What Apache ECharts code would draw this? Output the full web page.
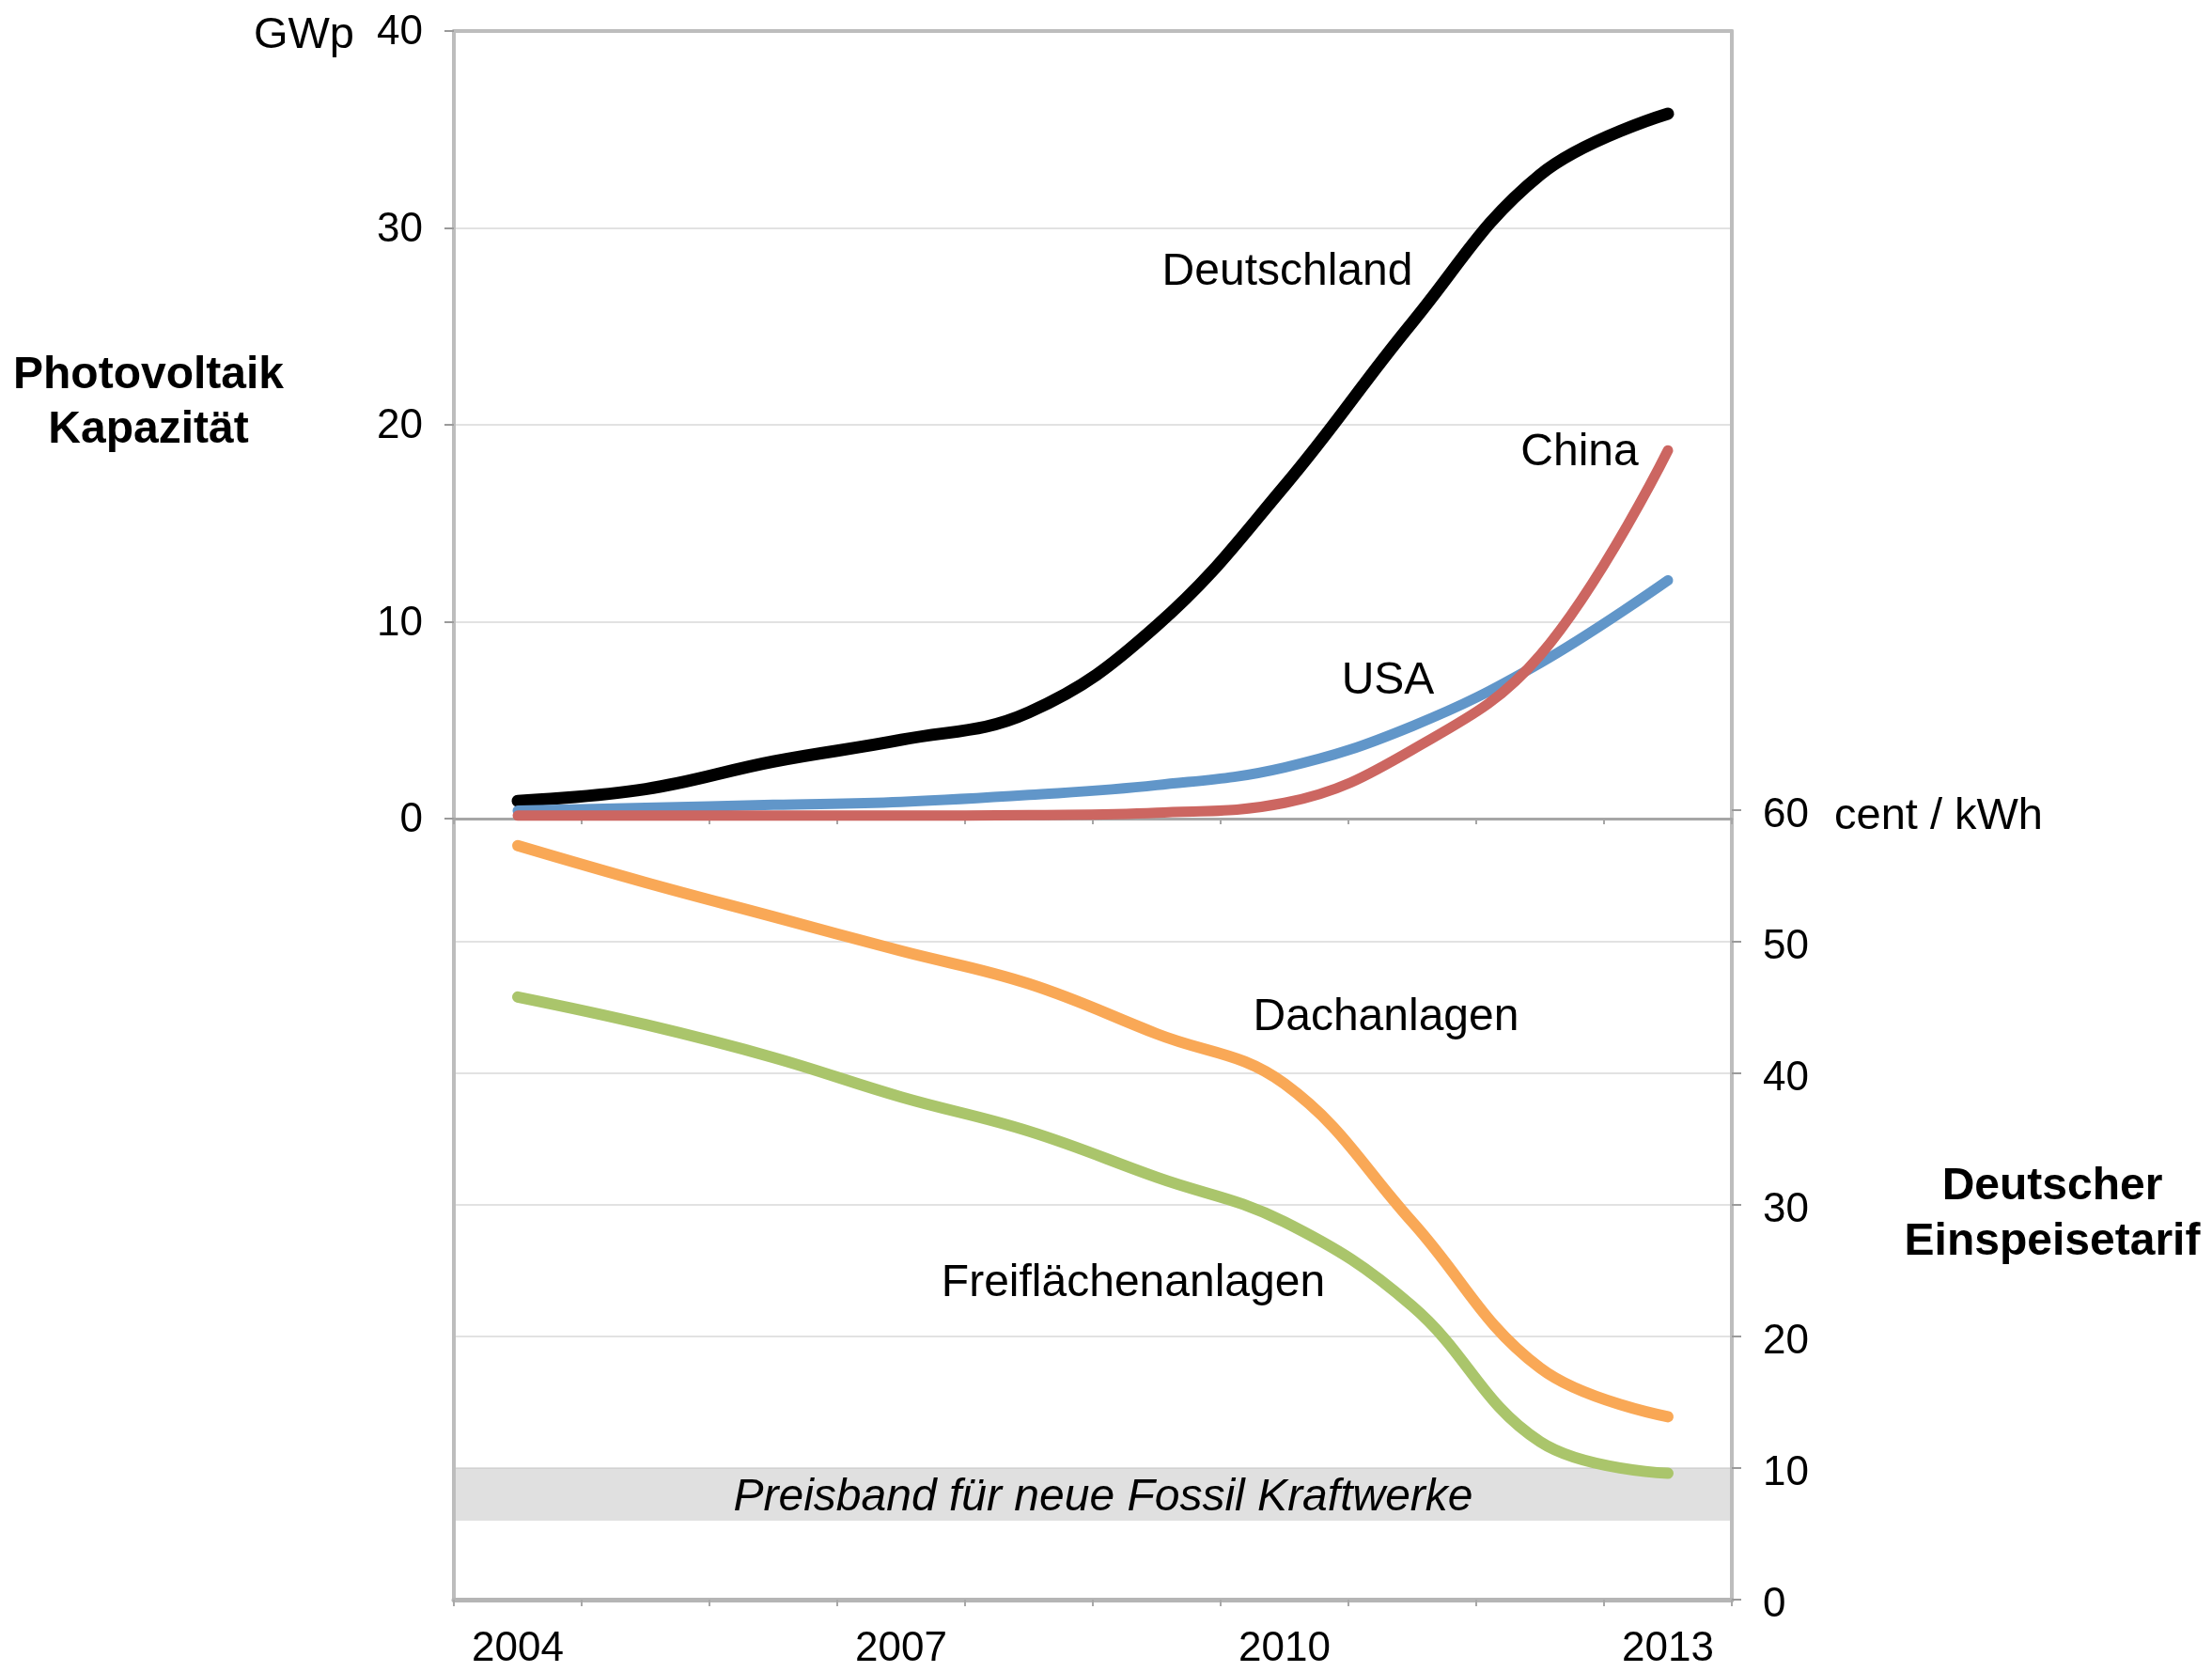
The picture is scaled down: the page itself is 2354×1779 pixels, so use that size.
<!DOCTYPE html>
<html>
<head>
<meta charset="utf-8">
<script src="https://cdn.jsdelivr.net/npm/echarts@6/dist/echarts.min.js"></script>
<style>
html,body{margin:0;padding:0;background:#fff;}
#chart{width:2354px;height:1779px;}
</style>
</head>
<body>
<div id="chart"></div>
<script>
// ---- data ----
var years = ['2004','2005','2006','2007','2008','2009','2010','2011','2012','2013'];
var deutschland = [0.9, 1.5, 2.9, 4.0, 5.4, 9.8, 16.9, 25.2, 32.7, 35.8];
var usa = [0.4, 0.55, 0.7, 0.85, 1.2, 1.7, 2.6, 4.7, 7.9, 12.1];
var china = [0.15, 0.15, 0.15, 0.15, 0.18, 0.3, 0.8, 3.5, 8.3, 18.7];
var dachanlagen = [57.3, 54.5, 51.9, 49.3, 46.8, 43.0, 39.2, 28.7, 17.6, 13.9];
var freiflaechen = [45.8, 43.7, 41.2, 38.2, 35.6, 32.1, 28.7, 22.3, 12.0, 9.6];
var fossilBand = [6, 10];
var capTicks = [0, 40, 10];   // min, max, interval (GWp)
var tarifTicks = [0, 60, 10]; // min, max, interval (cent / kWh)

var FONT = '"Liberation Sans", Arial, Helvetica, sans-serif';
var AXIS = '#bdbdbd';
var GRIDC = '#e2e2e2';

var chart = echarts.init(document.getElementById('chart'), null, {renderer: 'canvas'});

function lineSeries(name, data, color, xi, yi, width, z) {
  return {
    name: name, type: 'line', data: data, xAxisIndex: xi, yAxisIndex: yi,
    smooth: 0.4, showSymbol: false, symbol: 'none', z: z || 2,
    lineStyle: {color: color, width: width, cap: 'round', join: 'round'},
    emphasis: {disabled: true}
  };
}

function yLabel(padTop) {
  return {
    show: true, margin: 33, color: '#000', fontFamily: FONT, fontSize: 44,
    formatter: '{v|{value}}',
    rich: {v: {fontSize: 44, fontFamily: FONT, color: '#000', padding: [padTop, 0, 0, 0]}}
  };
}

var option = {
  backgroundColor: '#ffffff',
  animation: false,
  textStyle: {fontFamily: FONT},
  grid: [
    {left: 483, right: 511, top: 33, height: 838},
    {left: 483, right: 511, top: 862, height: 840}
  ],
  xAxis: [
    {
      type: 'category', gridIndex: 0, data: years, boundaryGap: true,
      axisLine: {show: true, onZero: true, lineStyle: {color: '#a6a6a6', width: 3}},
      axisTick: {show: true, interval: 0, length: 6, lineStyle: {color: '#a6a6a6', width: 2}},
      axisLabel: {show: false}, splitLine: {show: false}
    },
    {
      type: 'category', gridIndex: 1, data: years, boundaryGap: true, position: 'bottom',
      axisLine: {show: true, onZero: false, lineStyle: {color: '#b5b5b5', width: 5}},
      axisTick: {show: true, interval: 0, length: 7, lineStyle: {color: '#a8a8a8', width: 2}},
      axisLabel: {show: true, interval: 2, margin: 31, fontSize: 44, color: '#000', fontFamily: FONT},
      splitLine: {show: false}
    },
    {
      type: 'category', gridIndex: 0, data: years, position: 'top',
      axisLine: {show: true, onZero: false, lineStyle: {color: AXIS, width: 4}},
      axisTick: {show: false}, axisLabel: {show: false}, splitLine: {show: false}
    }
  ],
  yAxis: [
    {
      type: 'value', gridIndex: 0, position: 'left',
      min: capTicks[0], max: capTicks[1], interval: capTicks[2],
      axisLine: {show: true, lineStyle: {color: AXIS, width: 4}},
      axisTick: {show: true, inside: false, length: 10, lineStyle: {color: '#9a9a9a', width: 2}},
      axisLabel: yLabel(4),
      splitLine: {show: true, showMinLine: false, showMaxLine: false, lineStyle: {color: GRIDC, width: 2}}
    },
    {
      type: 'value', gridIndex: 0, position: 'right',
      min: capTicks[0], max: capTicks[1], interval: capTicks[2],
      axisLine: {show: true, lineStyle: {color: AXIS, width: 4}},
      axisTick: {show: false}, axisLabel: {show: false}, splitLine: {show: false}
    },
    {
      type: 'value', gridIndex: 1, position: 'left',
      min: tarifTicks[0], max: tarifTicks[1], interval: tarifTicks[2],
      axisLine: {show: true, lineStyle: {color: AXIS, width: 4}},
      axisTick: {show: false}, axisLabel: {show: false}, splitLine: {show: false}
    },
    {
      type: 'value', gridIndex: 1, position: 'right',
      min: tarifTicks[0], max: tarifTicks[1], interval: tarifTicks[2],
      axisLine: {show: true, lineStyle: {color: AXIS, width: 4}},
      axisTick: {show: true, inside: false, length: 10, lineStyle: {color: '#9a9a9a', width: 2}},
      axisLabel: yLabel(12),
      splitLine: {show: true, showMinLine: false, showMaxLine: false, lineStyle: {color: GRIDC, width: 2}}
    }
  ],
  series: [
    lineSeries('Deutschland', deutschland, '#000000', 0, 0, 13, 2),
    lineSeries('USA', usa, '#6196c9', 0, 0, 11, 3),
    lineSeries('China', china, '#cc6661', 0, 0, 11, 4),
    lineSeries('Dachanlagen', dachanlagen, '#f9a856', 1, 3, 12, 2),
    lineSeries('Freiflächenanlagen', freiflaechen, '#aac56b', 1, 3, 12, 2),
    {
      name: 'Preisband', type: 'line', xAxisIndex: 1, yAxisIndex: 3, data: [], z: 5,
      markArea: {
        silent: true,
        itemStyle: {color: 'rgba(190,190,190,0.48)'},
        label: {show: true, position: 'inside', offset: [11, 4], fontSize: 48, fontStyle: 'italic',
                color: '#000', fontFamily: FONT, formatter: 'Preisband für neue Fossil Kraftwerke'},
        data: [[{yAxis: fossilBand[0]}, {yAxis: fossilBand[1]}]]
      }
    }
  ],
  graphic: [
    {type: 'text', x: 377, y: 38, style: {text: 'GWp', font: '47px ' + FONT, fill: '#000', align: 'right', verticalAlign: 'middle'}},
    {type: 'text', x: 158, y: 429, style: {text: 'Photovoltaik\nKapazität', font: 'bold 48px ' + FONT, fill: '#000', align: 'center', verticalAlign: 'middle', lineHeight: 58}},
    {type: 'text', x: 1952, y: 869, style: {text: 'cent / kWh', font: '47px ' + FONT, fill: '#000', align: 'left', verticalAlign: 'middle'}},
    {type: 'text', x: 2184, y: 1292, style: {text: 'Deutscher\nEinspeisetarif', font: 'bold 48px ' + FONT, fill: '#000', align: 'center', verticalAlign: 'middle', lineHeight: 59}},
    {type: 'text', x: 1370, y: 290, style: {text: 'Deutschland', font: '48px ' + FONT, fill: '#000', align: 'center', verticalAlign: 'middle'}},
    {type: 'text', x: 1681, y: 482, style: {text: 'China', font: '48px ' + FONT, fill: '#000', align: 'center', verticalAlign: 'middle'}},
    {type: 'text', x: 1477, y: 725, style: {text: 'USA', font: '48px ' + FONT, fill: '#000', align: 'center', verticalAlign: 'middle'}},
    {type: 'text', x: 1475, y: 1083, style: {text: 'Dachanlagen', font: '48px ' + FONT, fill: '#000', align: 'center', verticalAlign: 'middle'}},
    {type: 'text', x: 1206, y: 1366, style: {text: 'Freiflächenanlagen', font: '48px ' + FONT, fill: '#000', align: 'center', verticalAlign: 'middle'}}
  ]
};
chart.setOption(option);
</script>
</body>
</html>
